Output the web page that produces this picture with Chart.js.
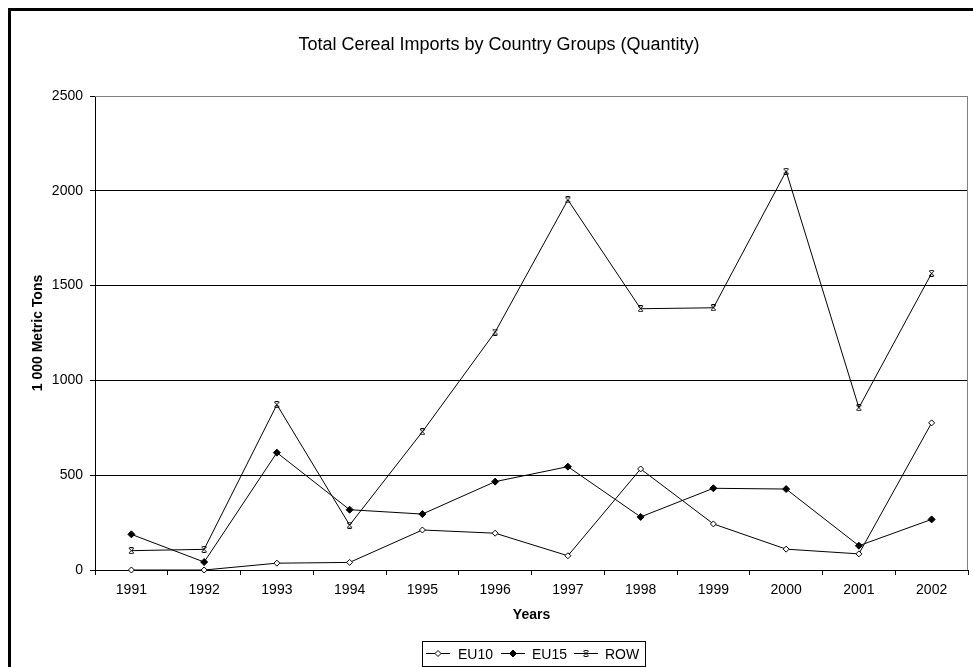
<!DOCTYPE html>
<html>
<head>
<meta charset="utf-8">
<title>Total Cereal Imports by Country Groups (Quantity)</title>
<script src="https://cdn.jsdelivr.net/npm/chart.js@4.4.1/dist/chart.umd.min.js"></script>
<style>
    html, body { margin: 0; padding: 0; background: #fff; }
    #chart { display: block; }
</style>
</head>
<body>
<canvas id="chart" width="973" height="667"></canvas>
<script>
const years = ['1991', '1992', '1993', '1994', '1995', '1996', '1997', '1998', '1999', '2000', '2001', '2002'];
const eu10 = [0, 0, 36, 40, 211, 194, 75, 533, 243, 110, 85, 776];
const eu15 = [188, 42, 619, 318, 295, 466, 545, 280, 431, 427, 128, 267];
const row = [102, 109, 872, 237, 729, 1255, 1952, 1378, 1383, 2103, 856, 1565];
const seriesNames = ['EU10', 'EU15', 'ROW'];
const yMin = 0;
const yMax = 2500;
const yStep = 500;

const FONT = 'Arial, "Liberation Sans", sans-serif';

// small "x with bars" marker used for ROW
function makeRowMarker() {
    const c = document.createElement('canvas');
    c.width = 7;
    c.height = 7;
    const g = c.getContext('2d');
    g.strokeStyle = '#000';
    g.lineWidth = 1;
    g.beginPath();
    g.moveTo(1, 1); g.lineTo(6, 6);
    g.moveTo(6, 1); g.lineTo(1, 6);
    g.moveTo(1.5, 0.5); g.lineTo(5.5, 0.5);
    g.moveTo(1.5, 6.5); g.lineTo(5.5, 6.5);
    g.stroke();
    return c;
}
const rowMarker = makeRowMarker();

function drawMarker(ctx, kind, x, y) {
    if (kind === 2) {
        ctx.drawImage(rowMarker, x - 3.5, y - 3.5);
        return;
    }
    const r = kind === 0 ? 3 : 3.5;
    ctx.beginPath();
    ctx.moveTo(x, y - r);
    ctx.lineTo(x + r, y);
    ctx.lineTo(x, y + r);
    ctx.lineTo(x - r, y);
    ctx.closePath();
    ctx.fillStyle = kind === 0 ? '#fff' : '#000';
    ctx.fill();
    ctx.strokeStyle = '#000';
    ctx.lineWidth = 1;
    ctx.stroke();
}

// frame, plot border, title and legend box
const decorations = {
    id: 'decorations',
    beforeDatasetsDraw(chart) {
        const ctx = chart.ctx;
        const a = chart.chartArea;
        ctx.save();
        ctx.strokeStyle = '#808080';
        ctx.lineWidth = 1;
        ctx.beginPath();
        ctx.moveTo(a.left, Math.round(a.top) + 0.5);
        ctx.lineTo(a.right - 0.5, Math.round(a.top) + 0.5);
        ctx.lineTo(a.right - 0.5, a.bottom);
        ctx.stroke();
        ctx.restore();
    },
    afterDraw(chart) {
        const ctx = chart.ctx;
        ctx.save();
        ctx.fillStyle = '#000';
        ctx.fillRect(8, 8, 3, chart.height - 8);
        ctx.fillRect(8, 8, chart.width - 8, 3);

        ctx.font = '18px ' + FONT;
        ctx.textAlign = 'center';
        ctx.textBaseline = 'alphabetic';
        ctx.fillText('Total Cereal Imports by Country Groups (Quantity)', 499, 50);

        // legend
        ctx.strokeStyle = '#000';
        ctx.lineWidth = 1;
        ctx.strokeRect(422.5, 641.5, 223, 25);
        const marks = [438, 513, 586];
        const texts = [458, 532, 605];
        ctx.font = '14px ' + FONT;
        ctx.textAlign = 'left';
        for (let i = 0; i < seriesNames.length; i++) {
            ctx.beginPath();
            ctx.moveTo(marks[i] - 12, 653.5);
            ctx.lineTo(marks[i] + 12, 653.5);
            ctx.stroke();
            drawMarker(ctx, i, marks[i], 653.5);
            ctx.fillStyle = '#000';
            ctx.fillText(seriesNames[i], texts[i], 658.5);
        }
        ctx.restore();
    }
};

function lineSet(label, values, style) {
    return Object.assign({
        label: label,
        data: values,
        borderColor: '#000',
        borderWidth: 1,
        tension: 0,
        clip: false,
        pointBorderColor: '#000',
        pointBorderWidth: 1,
        pointHoverRadius: 4
    }, style);
}

const ctx = document.getElementById('chart');

const cereal_chart = new Chart(ctx, {
    type: 'line',
    data: {
        labels: years,
        datasets: [
            lineSet(seriesNames[0], eu10, { pointStyle: 'rectRot', pointRadius: 3, pointBackgroundColor: '#fff' }),
            lineSet(seriesNames[1], eu15, { pointStyle: 'rectRot', pointRadius: 3.5, pointBackgroundColor: '#000' }),
            lineSet(seriesNames[2], row, { pointStyle: rowMarker, pointRadius: 3.5 })
        ]
    },
    options: {
        responsive: false,
        animation: false,
        devicePixelRatio: 1,
        layout: { padding: { left: 0, top: 96, right: 3, bottom: 0 } },
        plugins: {
            legend: { display: false },
            title: { display: false },
            tooltip: { enabled: true }
        },
        scales: {
            x: {
                type: 'category',
                offset: true,
                afterFit: (s) => { s.height = 97; },
                grid: {
                    offset: true,
                    drawOnChartArea: false,
                    color: '#000',
                    tickLength: 5
                },
                border: { display: true, color: '#000', width: 1 },
                ticks: {
                    color: '#000',
                    font: { family: FONT, size: 14 },
                    padding: 7,
                    maxRotation: 0,
                    autoSkip: false
                },
                title: {
                    display: true,
                    text: 'Years',
                    color: '#000',
                    font: { family: FONT, size: 14, weight: 'bold' },
                    padding: { top: 0, bottom: 43.6 }
                }
            },
            y: {
                min: yMin,
                max: yMax,
                afterFit: (s) => { s.width = 95; },
                grid: {
                    color: (c) => (c.tick && c.tick.value === yMax ? '#808080' : '#000'),
                    tickColor: '#000',
                    tickLength: 5
                },
                border: { display: true, color: '#000', width: 1 },
                ticks: {
                    stepSize: yStep,
                    color: '#000',
                    font: { family: FONT, size: 14 },
                    padding: 7,
                    callback: (v) => String(v)
                },
                title: {
                    display: true,
                    text: '1 000 Metric Tons',
                    color: '#000',
                    font: { family: FONT, size: 14, weight: 'bold' },
                    padding: { top: 29.6, bottom: 0 }
                }
            }
        }
    },
    plugins: [decorations]
});
</script>
</body>
</html>
